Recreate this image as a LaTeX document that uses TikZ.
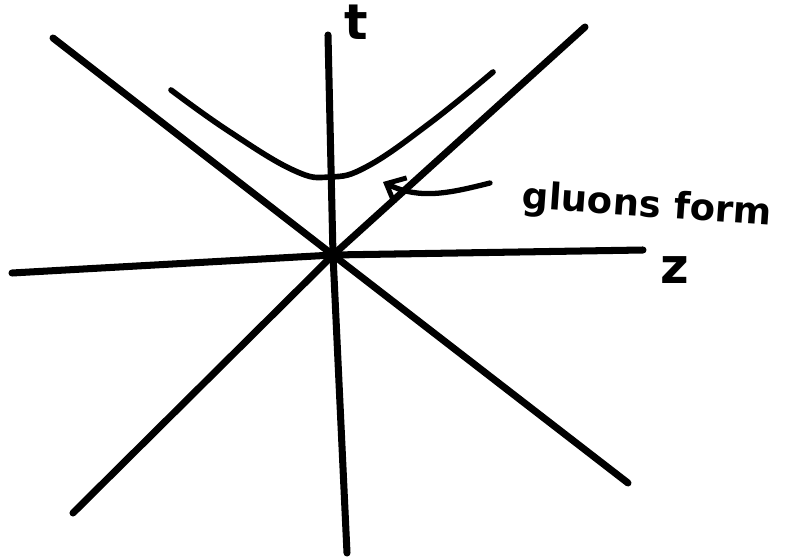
\documentclass[tikz,border=0pt]{standalone}
\usepackage{fontspec}
\setmainfont{DejaVu Sans}
\usetikzlibrary{arrows.meta}

\tikzset{
    mk axis/.style={line width=4pt, line cap=round, black},
    mk cone/.style={line width=4pt, line cap=round, black},
    mk hyper/.style={line width=3.2pt, line cap=round, black},
    mk arrow/.style={line width=3pt, line cap=round, black,
                     -{Straight Barb[length=9pt, width=16pt, line width=2.8pt]}},
    mk label/.style={font=\bfseries\fontsize{28}{28}\selectfont, inner sep=0pt},
    mk note/.style={font=\bfseries\fontsize{21}{21}\selectfont, inner sep=0pt,
                    anchor=west, rotate=-4},
}

\begin{document}
\begin{tikzpicture}[x=0.02cm, y=-0.02cm]
    \useasboundingbox (0,0) rectangle (785,557);
    % Origin of the diagram
    \coordinate (o) at (333,255);
    % Axis end points
    \coordinate (t top) at (328,35);
    \coordinate (t bot) at (347,553);
    \coordinate (z left) at (12,273);
    \coordinate (z right) at (643,250);
    % Light cone end points
    \coordinate (c nw) at (53,38);
    \coordinate (c se) at (628,483);
    \coordinate (c ne) at (585,27);
    \coordinate (c sw) at (73,513);
    % Axes
    \draw[mk axis] (t top) -- (o) -- (t bot);
    \draw[mk axis] (z left) -- (o) -- (z right);
    % Light cone
    \draw[mk cone] (c nw) -- (o) -- (c se);
    \draw[mk cone] (c sw) -- (o) -- (c ne);
    % Hyperbola
    \draw[mk hyper] plot[smooth, tension=0.7] coordinates
        {(171,90) (227,130) (293,170) (330,177) (368,166)
         (430,123) (493,72)};
    % Labels
    \node[mk label] (t) at (356,22) {t};
    \node[mk label] (z) at (675,270) {z};
    \node[mk note] (gluons) at (522,198) {gluons form};
    % Arrow from the label to the region under the hyperbola
    \coordinate (tip) at (383,182);
    \draw[mk arrow] (490,183) .. controls (450,193) and (420,200) .. (tip);
\end{tikzpicture}
\end{document}
